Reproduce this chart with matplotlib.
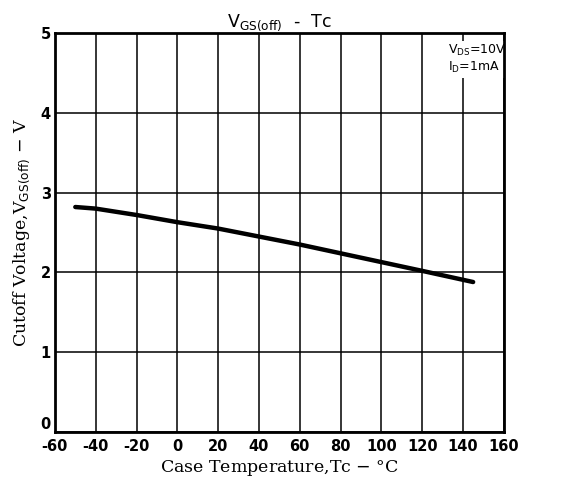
"""Cutoff voltage vs case temperature (datasheet style chart)."""

import matplotlib
matplotlib.use("Agg")
import matplotlib.pyplot as plt

# Data
temp_c = [-50, -40, -20, 0, 20, 40, 60, 80, 100, 120, 145]
vgs_off = [2.82, 2.80, 2.72, 2.63, 2.55, 2.45, 2.35, 2.24, 2.13, 2.02, 1.88]

x_ticks = [-60, -40, -20, 0, 20, 40, 60, 80, 100, 120, 140, 160]
y_ticks = [0, 1, 2, 3, 4, 5]

fig = plt.figure(figsize=(5.66, 4.86), dpi=100)
ax = fig.add_axes([0.097, 0.111, 0.793, 0.821])

ax.plot(temp_c, vgs_off, color="black", linewidth=3.2, solid_capstyle="round")

ax.set_xlim(-60, 160)
ax.set_ylim(0, 5)
ax.set_xticks(x_ticks)
ax.set_yticks(y_ticks)
ax.set_xticklabels([str(t) for t in x_ticks], fontweight="bold",
                   fontfamily="DejaVu Sans", fontsize=10.5)
ax.set_yticklabels([str(t) for t in y_ticks], fontweight="bold",
                   fontfamily="DejaVu Sans", fontsize=10.5)
ax.tick_params(length=0, pad=3)
ax.tick_params(axis="x", pad=5)
# the "0" on the y axis sits a little above the corner, as in the print
ax.get_yticklabels()[0].set_verticalalignment("bottom")

# grid like the printed chart paper
ax.grid(True, color="black", linewidth=1.1)
ax.set_axisbelow(True)
for s in ax.spines.values():
    s.set_linewidth(2)

ax.set_xlabel("Case Temperature,Tc $-$ °C", family="DejaVu Serif",
              fontsize=12.5, labelpad=3)
ax.set_ylabel(r"Cutoff Voltage,V$_{\mathrm{GS(off)}}$ $-$ V", family="DejaVu Serif",
              fontsize=12.5, labelpad=6)

ax.set_title(r"V$_{\mathrm{GS(off)}}$  -  Tc", family="DejaVu Sans",
             fontsize=12.5, pad=4)

# conditions box, drawn under the frame so the right spine stays visible
ax.text(0.875, 0.975, "V$_{\\mathrm{DS}}$=10V\nI$_{\\mathrm{D}}$=1mA",
        transform=ax.transAxes, ha="left", va="top", fontsize=9,
        family="DejaVu Sans", linespacing=1.2, zorder=2,
        bbox=dict(facecolor="white", edgecolor="none", pad=1.5))

fig.savefig("out.png", dpi=100)
